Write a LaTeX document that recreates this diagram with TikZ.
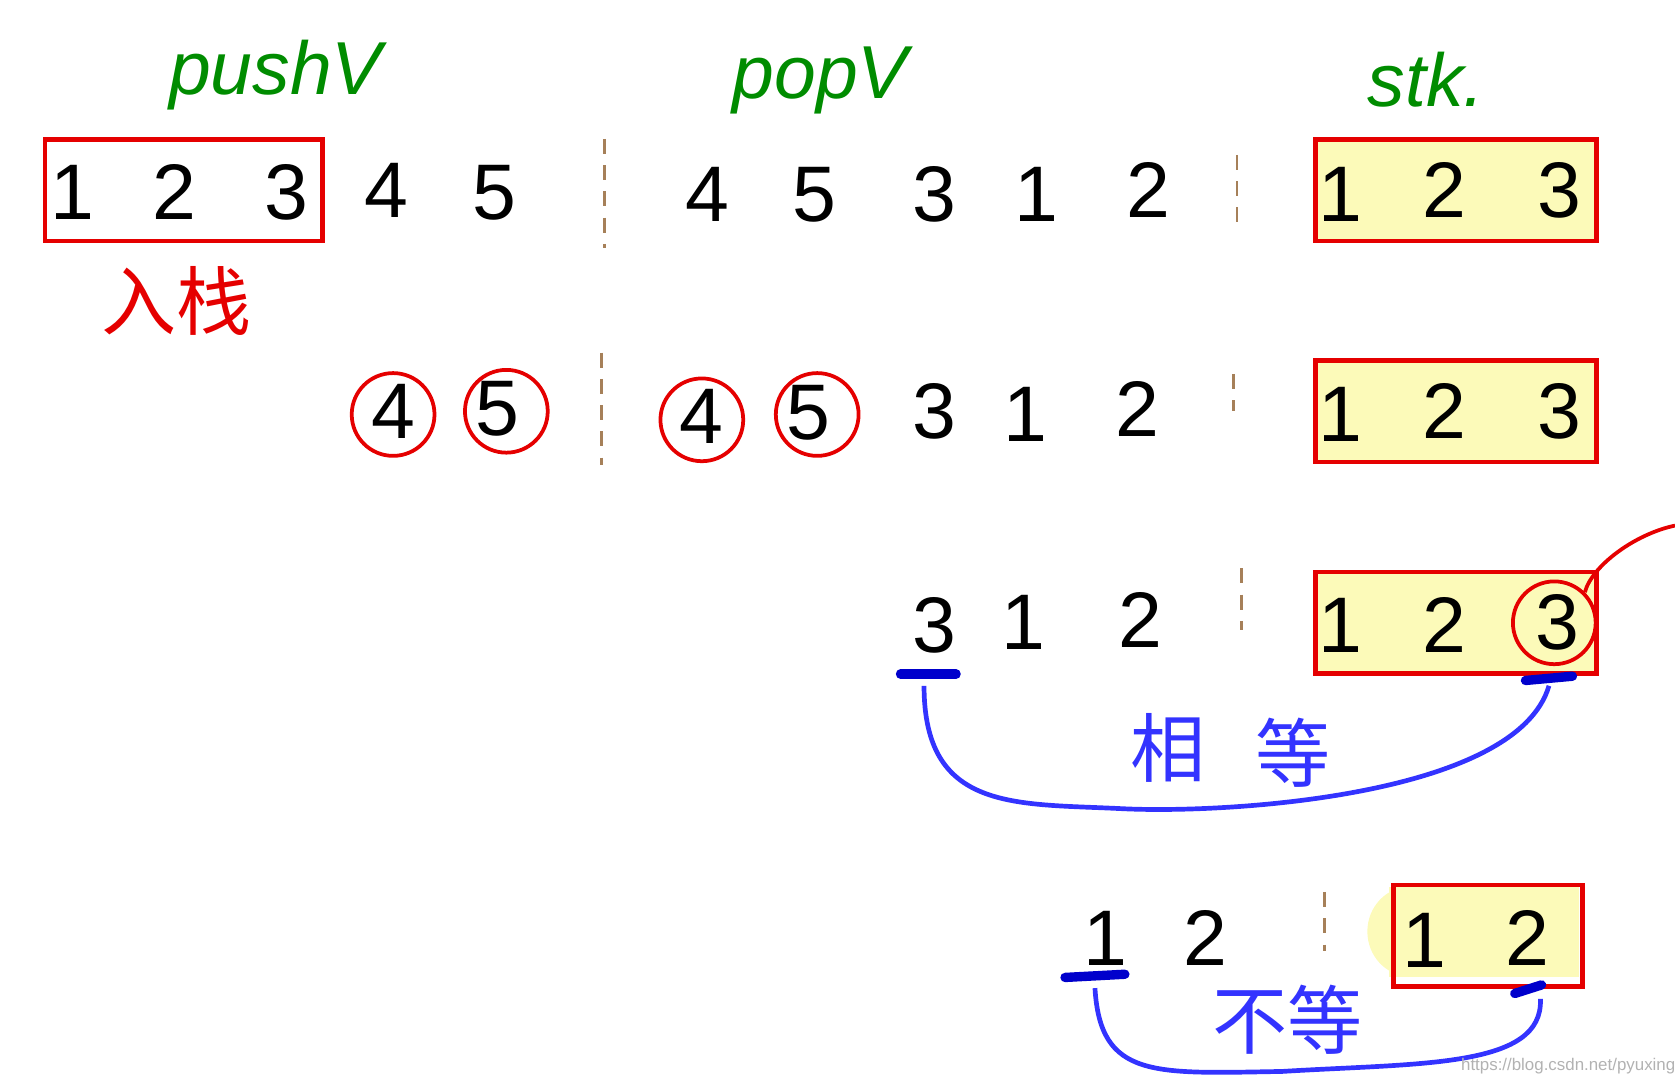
\documentclass[tikz,border=0pt]{standalone}
\usepackage{fontspec}
\setmainfont{Liberation Sans}
\newfontfamily\cjk{Noto Sans CJK SC}
\begin{document}
\begin{tikzpicture}[x=0.02cm,y=-0.02cm,
  dig/.style={font=\fontsize{42}{46}\selectfont},
  grn/.style={font=\fontsize{40}{44}\selectfont\itshape, text=green!55!black},
  redbox/.style={draw=red!90!black, line width=2.5pt},
  sep/.style={draw=brown!60!gray, line width=1.5pt, dash pattern=on 8pt off 6pt},
  circ/.style={draw=red!90!black, line width=2pt, circle, minimum size=1.55cm},
  blu/.style={draw=blue!80!white, line width=2.5pt},
  bline/.style={draw=blue!80!black, line width=5pt, line cap=round},
  cjkred/.style={font=\cjk\fontsize{40}{44}\selectfont, text=red!90!black},
  cjkblue/.style={font=\cjk\fontsize{40}{44}\selectfont, text=blue!80!white}]
\useasboundingbox (0,0) rectangle (1568,1017);
\definecolor{hl}{RGB}{252,250,185}
% labels
\node[grn] (lp) at (258,70) {pushV};
\node[grn] (lq) at (768,75) {popV};
\node[grn] (ls) at (1335,75) {stk.};
\node[cjkred] (ru) at (165,282) {入栈};
% Row 1
\node[redbox, minimum width=5.2cm, minimum height=1.9cm] (b1) at (172,178) {};
\node[dig] (a1) at (68,180) {1};
\node[dig] (a2) at (163,180) {2};
\node[dig] (a3) at (268,180) {3};
\node[dig] (a4) at (362,178) {4};
\node[dig] (a5) at (463,180) {5};
\coordinate (s1a) at (566,130); \coordinate (s1b) at (566,232);
\draw[sep] (s1a) -- (s1b);
\node[dig] (p14) at (662,182) {4};
\node[dig] (p15) at (762,182) {5};
\node[dig] (p13) at (875,182) {3};
\node[dig] (p11) at (970,182) {1};
\node[dig] (p12) at (1075,178) {2};
\coordinate (s2a) at (1158,145); \coordinate (s2b) at (1158,215);
\draw[sep] (s2a) -- (s2b);
\node[redbox, fill=hl, minimum width=5.26cm, minimum height=1.9cm] (k1) at (1363,178) {};
\node[dig] (k11) at (1255,182) {1};
\node[dig] (k12) at (1352,178) {2};
\node[dig] (k13) at (1460,178) {3};
% Row 2
\node[dig] (c4) at (368,385) {4};
\node[circ] (c4c) at (368,388) {};
\node[dig] (c5) at (466,383) {5};
\node[circ] (c5c) at (474,385) {};
\coordinate (s3a) at (563,330); \coordinate (s3b) at (563,435);
\draw[sep] (s3a) -- (s3b);
\node[dig] (d4) at (657,390) {4};
\node[circ] (d4c) at (657,393) {};
\node[dig] (d5) at (757,386) {5};
\node[circ] (d5c) at (765,388) {};
\node[dig] (q3) at (875,385) {3};
\node[dig] (q1) at (960,388) {1};
\node[dig] (q2) at (1065,383) {2};
\coordinate (s4a) at (1155,350); \coordinate (s4b) at (1155,385);
\draw[sep] (s4a) -- (s4b);
\node[redbox, fill=hl, minimum width=5.26cm, minimum height=1.9cm] (k2) at (1363,385) {};
\node[dig] (k21) at (1255,388) {1};
\node[dig] (k22) at (1352,385) {2};
\node[dig] (k23) at (1460,385) {3};
% Row 3
\node[dig] (r3) at (875,585) {3};
\node[dig] (r1) at (958,583) {1};
\node[dig] (r2) at (1068,580) {2};
\coordinate (s5a) at (1162,532); \coordinate (s5b) at (1162,590);
\draw[sep] (s5a) -- (s5b);
\node[redbox, fill=hl, minimum width=5.26cm, minimum height=1.9cm] (k3) at (1363,583) {};
\node[dig] (k31) at (1255,585) {1};
\node[dig] (k32) at (1352,585) {2};
\node[dig] (k33) at (1458,583) {3};
\node[circ] (k33c) at (1455,583) {};
\coordinate (rx) at (1568,492);
\draw[draw=red!90!black, line width=2pt] (k33c.north east) .. controls (1490,530) and (1530,500) .. (rx);
\coordinate (u1a) at (843,631); \coordinate (u1b) at (895,631);
\draw[bline] (u1a) -- (u1b);
\coordinate (u2a) at (1428,637); \coordinate (u2b) at (1472,633);
\draw[bline] (u2a) -- (u2b);
\coordinate (cA) at (865,642); \coordinate (cB) at (1450,642);
\draw[blu] (cA) .. controls (865,760) and (950,752) .. (1050,757)
  .. controls (1150,762) and (1420,745) .. (cB);
\node[cjkblue] (xd) at (1093,700) {相};
\node[cjkblue] (dd) at (1210,705) {等};
% Row 4
\node[dig] (t1) at (1035,878) {1};
\node[dig] (t2) at (1128,878) {2};
\coordinate (s6a) at (1240,835); \coordinate (s6b) at (1240,890);
\draw[sep] (s6a) -- (s6b);
\fill[hl] (1300,830) rectangle (1478,915);
\fill[hl] (1320,872) ellipse (40 and 42);
\node[redbox, minimum width=3.54cm, minimum height=1.9cm] (k4) at (1393,876) {};
\node[dig] (k41) at (1333,880) {1};
\node[dig] (k42) at (1430,878) {2};
\coordinate (u3a) at (997,915); \coordinate (u3b) at (1053,912);
\draw[bline] (u3a) -- (u3b);
\coordinate (u4a) at (1418,930); \coordinate (u4b) at (1443,922);
\draw[bline] (u4a) -- (u4b);
\coordinate (cC) at (1025,925); \coordinate (cD) at (1442,935);
\draw[blu] (cC) .. controls (1030,1010) and (1080,1005) .. (1200,1003)
  .. controls (1330,995) and (1445,1000) .. (cD);
\node[cjkblue] (bd) at (1205,955) {不等};
\node[font=\fontsize{9}{10}\selectfont, text=gray!60] (wm) at (1468,998) {https://blog.csdn.net/pyuxing};
\end{tikzpicture}
\end{document}
